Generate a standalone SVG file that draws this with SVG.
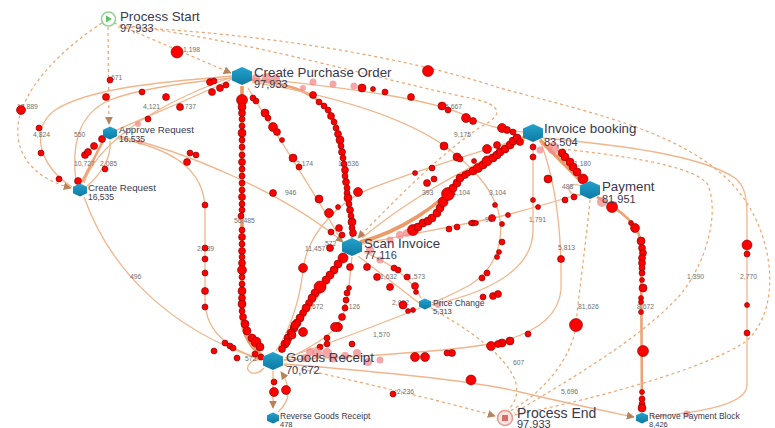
<svg xmlns="http://www.w3.org/2000/svg" xmlns:xlink="http://www.w3.org/1999/xlink" width="775" height="428" viewBox="0 0 775 428">
<style>
.e{fill:none;stroke:#f2b58b;stroke-width:1.3}
.e2{fill:none;stroke:#eea375;stroke-width:2.6}
.e3{fill:none;stroke:#eb9a68;stroke-width:3.6}
.d{fill:none;stroke:#eea56f;stroke-width:1.2;stroke-dasharray:3 3}
.lb{font-family:"Liberation Sans",Arial,sans-serif;font-size:6.8px;fill:#707070}
.nl{font-family:"Liberation Sans",Arial,sans-serif;font-size:13.3px;fill:#383850}
.nc{font-family:"Liberation Sans",Arial,sans-serif;font-size:11px;fill:#383850}
.sl{font-family:"Liberation Sans",Arial,sans-serif;font-size:9.7px;fill:#383850}
.sc{font-family:"Liberation Sans",Arial,sans-serif;font-size:8.5px;fill:#383850}
.xl{font-family:"Liberation Sans",Arial,sans-serif;font-size:8.5px;fill:#383850}
.xc{font-family:"Liberation Sans",Arial,sans-serif;font-size:7.5px;fill:#383850}
.hx{fill:url(#hg)}
#tokens circle{fill:#ff0000;stroke:#7a0000;stroke-width:0.6}
#tokens circle.q{fill:#f28a8a;stroke:none;opacity:0.75}
</style>
<defs>
<linearGradient id="hg" x1="0" y1="0" x2="0" y2="1"><stop offset="0" stop-color="#24a2cc"/><stop offset="1" stop-color="#0d7aa3"/></linearGradient>
<marker id="ar" viewBox="0 0 10 10" refX="9" refY="5" markerUnits="userSpaceOnUse" markerWidth="8" markerHeight="8" orient="auto"><path d="M0,0 L10,5 L0,10 z" fill="#b5845c"/></marker>
<path id="hL" d="M0,-9 L10,-4.5 L10,4.5 L0,9 L-10,4.5 L-10,-4.5 Z"/>
<path id="hS" d="M0,-6.5 L7,-3.2 L7,3.2 L0,6.5 L-7,3.2 L-7,-3.2 Z"/>
<path id="hX" d="M0,-5.5 L6,-2.8 L6,2.8 L0,5.5 L-6,2.8 L-6,-2.8 Z"/>
</defs>
<rect width="775" height="428" fill="#ffffff"/>

<g id="connectors">
<path class="d" d="M114,23 C150,38 200,60 231,73" marker-end="url(#ar)"/>
<path class="d" d="M108,27 L109,124" marker-end="url(#ar)"/>
<path class="d" d="M102,23 C60,50 22,90 18,125 C15,160 40,180 71,188" marker-end="url(#ar)"/>
<path class="d" d="M118,27 C250,32 400,55 500,88 C600,115 700,135 745,200 C778,250 778,315 745,342 C700,372 580,402 514,415"/>
<path class="d" d="M120,25 C250,40 380,80 470,98 C505,105 502,116 482,126 C445,150 400,195 358,238" marker-end="url(#ar)"/>
<path class="d" d="M544,147 C620,155 695,165 708,185 C720,215 705,265 680,295 C640,340 560,385 514,413"/>
<path class="d" d="M590,200 C585,250 578,300 576,325 C572,360 540,395 510,411"/>
<path class="d" d="M431,308 C470,330 505,355 515,380 C520,395 513,405 508,410"/>
<path class="d" d="M284,365 C350,380 440,400 495,416" marker-end="url(#ar)"/>
<path class="e3" d="M242,86 L242,318 C242,336 254,350 262,356"/>
<path class="e2" d="M252,80 C300,84 330,100 338,130 C346,160 350,200 352,238"/>
<path class="e" d="M248,88 C270,125 310,185 340,238"/>
<path class="e3" d="M280,352 C295,325 325,285 346,255"/>
<path class="e" d="M352,257 L348,295 C345,318 335,332 318,342 C305,350 295,356 284,360"/>
<path class="e" d="M276,351 C290,330 300,300 303,270 C306,240 330,210 360,193 C400,175 470,155 523,138"/>
<path class="e3" d="M360,242 C400,232 440,205 460,180 C480,160 505,148 525,137"/>
<path class="e" d="M362,238 C390,215 430,185 525,140"/>
<path class="e" d="M253,78 C350,88 440,100 470,118 C490,128 510,130 523,132"/>
<path class="e3" d="M540,140 L583,183"/>
<path class="e2" d="M597,197 C620,210 641,225 641,245 L642,410"/>
<path class="e" d="M543,138 C620,145 700,155 735,178 C745,186 747,198 747,215 L747,385 C747,405 700,412 652,417"/>
<path class="e" d="M358,256 L419,303"/>
<path class="e" d="M364,252 C395,265 412,280 421,298"/>
<path class="e" d="M420,308 C390,320 340,340 285,358"/>
<path class="e" d="M252,82 C330,95 400,115 445,146 C470,165 490,185 498,210 C506,240 495,270 470,285 C455,293 440,300 431,303"/>
<path class="e" d="M533,143 L533,230 C533,265 500,290 431,305"/>
<path class="e" d="M541,143 C555,180 562,230 561,290 C558,320 530,335 495,343 C450,352 350,357 284,360"/>
<path class="e" d="M362,244 C420,232 480,222 510,214 C540,206 560,200 580,194"/>
<path class="e" d="M284,364 C380,372 470,380 520,392 C570,404 610,412 634,417" marker-end="url(#ar)"/>
<path class="e" d="M117,130 C150,115 200,95 232,79"/>
<path class="e" d="M84,183 C95,150 140,110 232,77"/>
<path class="e" d="M232,76 C160,82 90,88 55,110 C30,128 38,165 72,187"/>
<path class="e" d="M76,183 C72,150 75,115 110,100 C140,88 190,82 232,78"/>
<path class="e2" d="M82,182 L104,139"/>
<path class="e" d="M110,141 C112,158 100,175 87,186"/>
<path class="e" d="M118,136 C180,150 280,190 343,242" marker-end="url(#ar)"/>
<path class="e" d="M117,138 C170,148 205,168 205,210 L205,300 C205,335 235,352 262,359" marker-end="url(#ar)"/>
<path class="e" d="M84,197 C110,270 170,330 262,360"/>
<path class="e" d="M264,368 C256,378 242,372 250,363 C254,359 258,359 262,360"/>
<path class="e" d="M273,371 L273,408" marker-end="url(#ar)"/>
<path class="e" d="M278,412 C292,400 290,385 281,372" marker-end="url(#ar)"/>
<path class="e" d="M582,187 C568,178 562,196 581,195"/>
<text class="lb" x="183" y="52">1,198</text>
<text class="lb" x="111" y="80">671</text>
<text class="lb" x="17" y="109">12,889</text>
<text class="lb" x="143" y="109">4,121</text>
<text class="lb" x="179" y="109">2,737</text>
<text class="lb" x="33" y="137">4,824</text>
<text class="lb" x="74" y="137">550</text>
<text class="lb" x="74" y="166">10,727</text>
<text class="lb" x="100" y="166">2,085</text>
<text class="lb" x="234" y="223">56,485</text>
<text class="lb" x="296" y="166">2,174</text>
<text class="lb" x="338" y="166">10,536</text>
<text class="lb" x="285" y="195">946</text>
<text class="lb" x="305" y="251">11,457</text>
<text class="lb" x="325" y="246">572</text>
<text class="lb" x="303" y="309">11,672</text>
<text class="lb" x="343" y="309">1,126</text>
<text class="lb" x="197" y="251">2,189</text>
<text class="lb" x="130" y="279">496</text>
<text class="lb" x="245" y="361">572</text>
<text class="lb" x="373" y="337">1,570</text>
<text class="lb" x="397" y="394">2,236</text>
<text class="lb" x="454" y="137">9,175</text>
<text class="lb" x="445" y="109">5,667</text>
<text class="lb" x="422" y="195">393</text>
<text class="lb" x="453" y="195">1,104</text>
<text class="lb" x="489" y="195">3,104</text>
<text class="lb" x="485" y="222">967</text>
<text class="lb" x="380" y="279">1,632</text>
<text class="lb" x="408" y="279">1,573</text>
<text class="lb" x="392" y="305">2,062</text>
<text class="lb" x="574" y="166">1,180</text>
<text class="lb" x="562" y="189">488</text>
<text class="lb" x="529" y="222">1,791</text>
<text class="lb" x="558" y="250">5,813</text>
<text class="lb" x="578" y="309">81,626</text>
<text class="lb" x="637" y="309">8,672</text>
<text class="lb" x="687" y="279">1,390</text>
<text class="lb" x="740" y="279">2,770</text>
<text class="lb" x="513" y="365">607</text>
<text class="lb" x="561" y="394">5,696</text>
</g>

<g id="tokens">
<circle cx="177" cy="52" r="6"/><circle cx="110" cy="80" r="3"/><circle cx="21" cy="110" r="4.5"/><circle cx="39" cy="128" r="3"/><circle cx="41" cy="153" r="3"/><circle cx="59" cy="179" r="3"/><circle cx="78" cy="181" r="3.5"/>
<circle cx="85" cy="155" r="3.5"/><circle cx="88" cy="152" r="3.5"/><circle cx="94" cy="146" r="3.5"/><circle cx="102" cy="139" r="3.5"/><circle cx="105" cy="169" r="3"/>
<circle cx="106" cy="97" r="3.5"/><circle cx="142" cy="92" r="3"/><circle cx="166" cy="97" r="3.5"/><circle cx="180" cy="107" r="3.5"/><circle cx="148" cy="119" r="3"/>
<circle class="q" cx="138" cy="124" r="3"/><circle class="q" cx="140" cy="142" r="2.5"/>
<circle cx="210" cy="82" r="3.5"/><circle cx="214" cy="81" r="3"/><circle cx="220" cy="88" r="3.5"/><circle cx="226" cy="85" r="3"/><circle cx="212" cy="92" r="3.5"/>
<circle cx="190" cy="153" r="3"/><circle cx="196" cy="155" r="3"/><circle cx="187" cy="162" r="3.5"/><circle cx="205" cy="205" r="3"/>
<circle cx="428" cy="71" r="5.5"/>
<circle class="q" cx="256" cy="78" r="4"/><circle class="q" cx="267" cy="78" r="5"/><circle class="q" cx="276" cy="78" r="4"/><circle class="q" cx="303" cy="88" r="3"/><circle class="q" cx="313" cy="82" r="3.5"/><circle class="q" cx="333" cy="84" r="3.5"/><circle class="q" cx="354" cy="86" r="3.5"/>
<circle cx="362" cy="88" r="4"/><circle cx="373" cy="89" r="2.5"/><circle cx="385" cy="92" r="3"/><circle cx="411" cy="97" r="3.5"/><circle cx="442" cy="106" r="4"/><circle cx="448" cy="110" r="3"/><circle cx="466" cy="118" r="4.5"/><circle cx="473" cy="121" r="3.5"/><circle cx="502" cy="128" r="4.5"/><circle cx="507" cy="130" r="3.5"/><circle cx="513" cy="132" r="3"/>
<circle cx="242" cy="100" r="5.5"/><circle cx="242" cy="107" r="4"/><circle cx="242" cy="113" r="3.5"/><circle cx="242" cy="119" r="3"/><circle cx="242" cy="126" r="3"/><circle cx="242" cy="133" r="4"/><circle cx="242" cy="140" r="3"/><circle cx="242" cy="147" r="3"/><circle cx="242" cy="155" r="3"/><circle cx="242" cy="162" r="3.5"/><circle cx="242" cy="169" r="3"/><circle cx="242" cy="176" r="3"/><circle cx="242" cy="183" r="3"/><circle cx="242" cy="190" r="3"/><circle cx="242" cy="197" r="3.5"/><circle cx="242" cy="204" r="3"/><circle cx="242" cy="210" r="3"/><circle cx="241" cy="216" r="3"/><circle cx="242" cy="230" r="3"/><circle cx="242" cy="237" r="3.5"/><circle cx="242" cy="244" r="3"/><circle cx="242" cy="251" r="3.5"/><circle cx="242" cy="257" r="3"/><circle cx="242" cy="263" r="3.5"/><circle cx="242" cy="270" r="4.5"/><circle cx="242" cy="277" r="3"/><circle cx="242" cy="284" r="3"/><circle cx="242" cy="291" r="4"/><circle cx="242" cy="298" r="3.5"/><circle cx="242" cy="304" r="4"/><circle cx="242" cy="311" r="3"/><circle cx="243" cy="317" r="3.5"/><circle cx="245" cy="324" r="4"/><circle cx="247" cy="331" r="4"/><circle cx="252" cy="338" r="4"/><circle cx="256" cy="342" r="5"/><circle cx="260" cy="347" r="4"/>
<circle cx="253" cy="98" r="3"/><circle cx="256" cy="101" r="3"/><circle cx="265" cy="113" r="4"/><circle cx="268" cy="118" r="3"/><circle cx="273" cy="127" r="4.5"/><circle cx="277" cy="132" r="3.5"/><circle cx="282" cy="140" r="2.5"/><circle cx="293" cy="158" r="4"/><circle cx="299" cy="167" r="3"/><circle cx="319" cy="199" r="4"/><circle cx="329" cy="213" r="4.5"/><circle cx="338" cy="207" r="2.5"/><circle cx="331" cy="232" r="3"/><circle cx="339" cy="228" r="3.5"/><circle cx="342" cy="235" r="3"/><circle cx="330" cy="248" r="3.5"/><circle cx="273" cy="193" r="3.5"/>
<circle cx="313" cy="95" r="3.5"/><circle cx="319" cy="102" r="3"/><circle cx="324" cy="106" r="3"/><circle cx="328" cy="110" r="3"/><circle cx="331" cy="116" r="3.5"/><circle cx="334" cy="122" r="3"/><circle cx="336" cy="128" r="3"/><circle cx="338" cy="134" r="3.5"/><circle cx="340" cy="140" r="4"/><circle cx="341" cy="146" r="3"/><circle cx="342" cy="152" r="3.5"/><circle cx="343" cy="158" r="3"/><circle cx="344" cy="164" r="3"/><circle cx="345" cy="170" r="3.5"/><circle cx="345" cy="176" r="3"/><circle cx="346" cy="182" r="3.5"/><circle cx="347" cy="188" r="3"/><circle cx="347" cy="193" r="3"/><circle cx="348" cy="198" r="4"/><circle cx="349" cy="204" r="3"/><circle cx="350" cy="210" r="3.5"/><circle cx="351" cy="216" r="3"/><circle cx="352" cy="222" r="4"/><circle cx="352" cy="228" r="3"/><circle cx="353" cy="233" r="3.5"/><circle cx="358" cy="192" r="4.5"/>
<circle cx="343" cy="258" r="5"/><circle cx="338" cy="264" r="4"/><circle cx="334" cy="270" r="4"/><circle cx="330" cy="275" r="4"/><circle cx="326" cy="280" r="4"/><circle cx="320" cy="287" r="6"/><circle cx="315" cy="293" r="4"/><circle cx="312" cy="298" r="4"/><circle cx="309" cy="303" r="3.5"/><circle cx="306" cy="308" r="4"/><circle cx="303" cy="313" r="3.5"/><circle cx="300" cy="318" r="4"/><circle cx="297" cy="323" r="4"/><circle cx="294" cy="328" r="4"/><circle cx="291" cy="333" r="4"/><circle cx="288" cy="338" r="4"/><circle cx="285" cy="344" r="4"/><circle cx="282" cy="349" r="3.5"/><circle cx="295" cy="325" r="4"/><circle cx="292" cy="335" r="4"/><circle cx="287" cy="342" r="3.5"/><circle cx="303" cy="268" r="4.5"/>
<circle cx="350" cy="267" r="3.5"/><circle cx="349" cy="288" r="2.5"/><circle cx="347" cy="293" r="3"/><circle cx="346" cy="300" r="3"/><circle cx="345" cy="308" r="3"/><circle cx="342" cy="317" r="3.5"/><circle cx="338" cy="327" r="4.5"/><circle cx="327" cy="338" r="3"/><circle cx="303" cy="332" r="4.5"/><circle cx="352" cy="344" r="3"/><circle cx="327" cy="344" r="3"/><circle cx="320" cy="347" r="3"/>
<circle cx="367" cy="267" r="3.5"/><circle cx="377" cy="277" r="3.5"/><circle cx="390" cy="287" r="3.5"/><circle cx="394" cy="268" r="3"/><circle cx="398" cy="270" r="3"/><circle cx="407" cy="277" r="3"/><circle cx="415" cy="286" r="3.5"/><circle cx="416" cy="292" r="2.5"/><circle cx="403" cy="305" r="4"/><circle cx="408" cy="311" r="2.5"/><circle cx="413" cy="310" r="2.5"/>
<circle class="q" cx="370" cy="250" r="4"/><circle class="q" cx="380" cy="260" r="3.5"/><circle class="q" cx="390" cy="240" r="3.5"/><circle class="q" cx="400" cy="235" r="4"/><circle class="q" cx="407" cy="233" r="4"/><circle class="q" cx="438" cy="305" r="3"/>
<circle cx="413" cy="230" r="5.5"/><circle cx="418" cy="227" r="4"/><circle cx="423" cy="223" r="4"/><circle cx="428" cy="221" r="4"/><circle cx="432" cy="218" r="4"/><circle cx="437" cy="213" r="4"/><circle cx="440" cy="208" r="4"/><circle cx="443" cy="202" r="5"/><circle cx="448" cy="194" r="6.5"/><circle cx="453" cy="188" r="4"/><circle cx="457" cy="183" r="4"/><circle cx="460" cy="178" r="4"/><circle cx="465" cy="175" r="3.5"/><circle cx="468" cy="173" r="3"/><circle cx="473" cy="171" r="4"/><circle cx="478" cy="168" r="4.5"/><circle cx="483" cy="165" r="4"/><circle cx="487" cy="161" r="5"/><circle cx="493" cy="158" r="4"/><circle cx="497" cy="155" r="4"/><circle cx="500" cy="152" r="4"/><circle cx="505" cy="149" r="4"/><circle cx="510" cy="145" r="4"/><circle cx="513" cy="141" r="4"/><circle cx="517" cy="138" r="4"/><circle cx="520" cy="142" r="3.5"/>
<circle cx="444" cy="146" r="4"/><circle cx="457" cy="157" r="4"/><circle cx="460" cy="159" r="3"/><circle cx="474" cy="161" r="2.5"/><circle cx="487" cy="149" r="4.5"/><circle cx="497" cy="145" r="3.5"/><circle cx="415" cy="173" r="2.5"/><circle cx="427" cy="183" r="3.5"/><circle cx="432" cy="168" r="3"/><circle cx="434" cy="179" r="3"/>
<circle cx="533" cy="147" r="3"/><circle cx="533" cy="157" r="3"/><circle cx="548" cy="179" r="4"/><circle cx="533" cy="200" r="2.5"/><circle cx="538" cy="207" r="2.5"/><circle class="q" cx="540" cy="150" r="3.5"/><circle class="q" cx="553" cy="148" r="6"/><circle cx="561" cy="259" r="3.5"/>
<circle cx="495" cy="205" r="2.5"/><circle cx="508" cy="215" r="2.5"/><circle cx="492" cy="218" r="3.5"/><circle cx="473" cy="223" r="3"/>
<circle cx="562" cy="153" r="4"/><circle cx="565" cy="157" r="4"/><circle cx="570" cy="162" r="4"/><circle cx="573" cy="167" r="4"/><circle cx="577" cy="172" r="4"/><circle cx="583" cy="179" r="5"/><circle cx="574" cy="197" r="3"/><circle cx="565" cy="200" r="3"/>
<circle cx="449" cy="229" r="3"/><circle cx="457" cy="227" r="3"/><circle cx="471" cy="223" r="2.5"/><circle cx="476" cy="223" r="2.5"/>
<circle cx="502" cy="224" r="2.5"/><circle cx="502" cy="242" r="3"/><circle cx="499" cy="252" r="2.5"/><circle cx="497" cy="257" r="2.5"/><circle cx="487" cy="273" r="3"/><circle cx="482" cy="278" r="3"/>
<circle cx="493" cy="296" r="3.5"/><circle cx="498" cy="294" r="3.5"/><circle cx="483" cy="297" r="3"/>
<circle cx="528" cy="334" r="3"/><circle cx="510" cy="341" r="4"/><circle cx="502" cy="343" r="4"/><circle cx="498" cy="344" r="3.5"/><circle cx="491" cy="346" r="4.5"/><circle cx="452" cy="353" r="3.5"/><circle cx="447" cy="353" r="3"/><circle cx="425" cy="357" r="4.5"/><circle cx="415" cy="357" r="4.5"/>
<circle cx="612" cy="207" r="5.5"/><circle cx="631" cy="223" r="2.5"/><circle cx="635" cy="228" r="4.5"/><circle cx="641" cy="241" r="4"/><circle cx="642" cy="248" r="3.5"/><circle cx="643" cy="253" r="3.5"/><circle cx="642" cy="258" r="3.5"/><circle cx="642" cy="263" r="3.5"/><circle cx="642" cy="268" r="3"/><circle cx="642" cy="273" r="3"/><circle cx="642" cy="280" r="2.5"/><circle cx="643" cy="288" r="4"/><circle cx="641" cy="298" r="2.5"/><circle cx="641" cy="302" r="2.5"/><circle cx="641" cy="312" r="2.5"/><circle cx="643" cy="351" r="5.5"/><circle cx="642" cy="392" r="2.5"/><circle cx="642" cy="399" r="3"/><circle cx="642" cy="404" r="3"/><circle cx="642" cy="408" r="4"/>
<circle cx="747" cy="245" r="5"/><circle cx="747" cy="254" r="3"/><circle cx="747" cy="305" r="2.5"/><circle cx="747" cy="333" r="3"/><circle class="q" cx="687" cy="414" r="3.5"/>
<circle cx="576" cy="325" r="6.5"/><circle cx="471" cy="380" r="5"/><circle cx="393" cy="394" r="3"/>
<circle cx="205" cy="248" r="3"/><circle cx="205" cy="259" r="3"/><circle cx="205" cy="273" r="3"/><circle cx="205" cy="291" r="3.5"/><circle cx="205" cy="307" r="3"/>
<circle cx="214" cy="351" r="3"/><circle cx="237" cy="358" r="3"/><circle cx="225" cy="343" r="3"/><circle cx="230" cy="346" r="3"/><circle cx="233" cy="348" r="3"/><circle cx="255" cy="354" r="3"/><circle cx="261" cy="357" r="3"/><circle cx="274" cy="382" r="3"/><circle cx="274" cy="392" r="4.5"/><circle cx="286" cy="390" r="4.5"/>
<circle class="q" cx="305" cy="358" r="4"/><circle class="q" cx="310" cy="352" r="4"/><circle class="q" cx="317" cy="353" r="5"/><circle class="q" cx="327" cy="353" r="5"/><circle class="q" cx="333" cy="358" r="4.5"/><circle class="q" cx="345" cy="356" r="4"/><circle class="q" cx="357" cy="353" r="4"/><circle class="q" cx="368" cy="362" r="4"/><circle class="q" cx="380" cy="360" r="3.5"/>
<circle cx="335" cy="327" r="4.5"/><circle class="q" cx="602" cy="202" r="5"/>
</g>

<g id="process-start"><circle cx="108.5" cy="19" r="7" fill="#ffffff" stroke="#8ed68e" stroke-width="1.6"/><path d="M106,15.5 L112,19 L106,22.5 Z" fill="#5fc45f"/><text class="nl" x="120" y="20.5">Process Start</text><text class="nc" x="120" y="32">97,933</text></g>
<g id="create-purchase-order"><use href="#hL" class="hx" transform="translate(242,76)"/><text class="nl" x="254" y="76.5">Create Purchase Order</text><text class="nc" x="254" y="88">97,933</text></g>
<g id="approve-request"><use href="#hS" class="hx" transform="translate(110,133)"/><text class="sl" x="119" y="133">Approve Request</text><text class="sc" x="119" y="142">16,535</text></g>
<g id="create-request"><use href="#hS" class="hx" transform="translate(80,190)"/><text class="sl" x="88" y="190.5">Create Request</text><text class="sc" x="88" y="200">16,535</text></g>
<g id="invoice-booking"><use href="#hL" class="hx" transform="translate(533,133)"/><text class="nl" x="544" y="133">Invoice booking</text><text class="nc" x="544" y="145.5">83,504</text></g>
<g id="payment"><use href="#hL" class="hx" transform="translate(590,190)"/><text class="nl" x="602" y="191">Payment</text><text class="nc" x="602" y="202.5">81,951</text></g>
<g id="scan-invoice"><use href="#hL" class="hx" transform="translate(352,247)"/><text class="nl" x="364" y="247.5">Scan Invoice</text><text class="nc" x="364" y="258.5">77,116</text></g>
<g id="price-change"><use href="#hX" class="hx" transform="translate(425,304)"/><text class="xl" x="433" y="305.5">Price Change</text><text class="xc" x="433" y="314">5,313</text></g>
<g id="goods-receipt"><use href="#hL" class="hx" transform="translate(273,361)"/><text class="nl" x="286" y="361.5">Goods Receipt</text><text class="nc" x="286" y="373.5">70,672</text></g>
<g id="reverse-goods-receipt"><use href="#hX" class="hx" transform="translate(273,418)"/><text class="xl" x="280" y="419">Reverse Goods Receipt</text><text class="xc" x="280" y="427">478</text></g>
<g id="process-end"><circle cx="505" cy="418" r="7.5" fill="#fbe4e0" stroke="#e39a90" stroke-width="1.5"/><rect x="502" y="415" width="6" height="6" fill="#d96b6b"/><text class="nl" x="517" y="418" style="font-size:14px">Process End</text><text class="nc" x="517" y="428">97,933</text></g>
<g id="remove-payment-block"><use href="#hX" class="hx" transform="translate(642,418)"/><text class="xl" x="649" y="419">Remove Payment Block</text><text class="xc" x="649" y="427">8,426</text></g>
</svg>
